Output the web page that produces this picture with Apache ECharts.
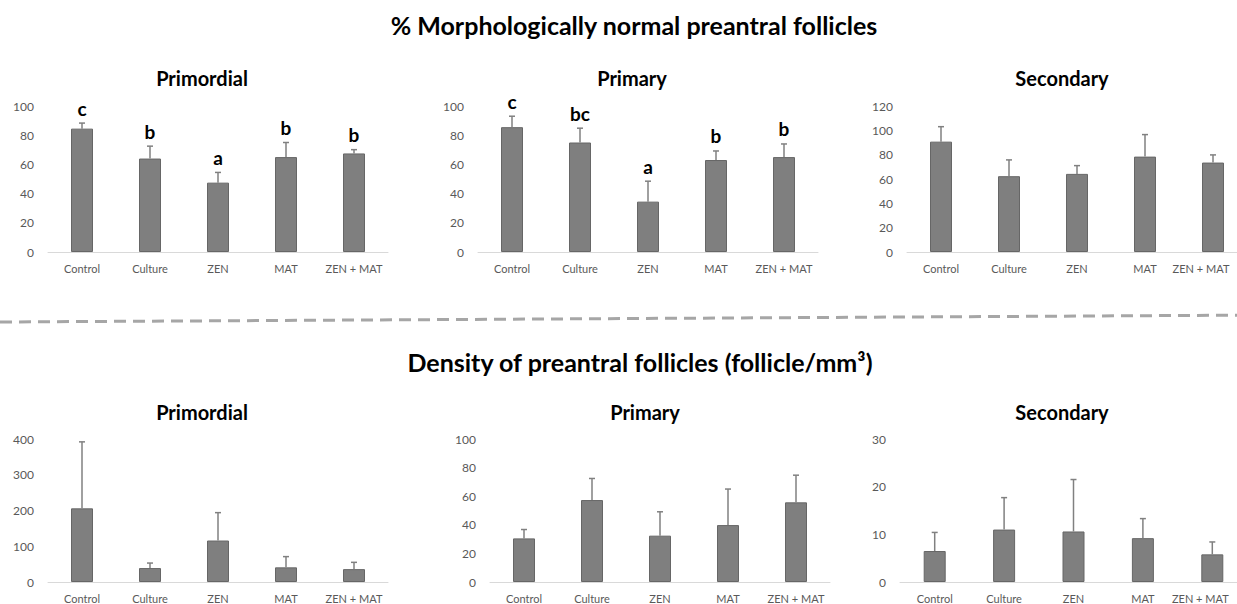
<!DOCTYPE html>
<html><head><meta charset="utf-8">
<script src="https://cdn.jsdelivr.net/npm/echarts@6/dist/echarts.min.js"></script>
<style>html,body{margin:0;padding:0;background:#fff;overflow:hidden}#c{width:1270px;height:604px}</style>
</head><body><div id="c"></div>
<script>
const categories = ['Control', 'Culture', 'ZEN', 'MAT', 'ZEN + MAT'];
const mainTitles = ['% Morphologically normal preantral follicles', 'Density of preantral follicles (follicle/mm³)'];
const panelTitles = ['Primordial', 'Primary', 'Secondary', 'Primordial', 'Primary', 'Secondary'];

const morphPrimordialMean = [84.5, 64, 47.5, 65, 67.5];
const morphPrimordialSD   = [3.8, 8.5, 7, 10, 2.6];
const morphPrimordialLetters = ['c', 'b', 'a', 'b', 'b'];
const morphPrimaryMean = [85.5, 75, 34.5, 63, 65];
const morphPrimarySD   = [7.5, 9.8, 14, 6.2, 9];
const morphPrimaryLetters = ['c', 'bc', 'a', 'b', 'b'];
const morphSecondaryMean = [90.7, 62.3, 64.2, 78.4, 73.5];
const morphSecondarySD   = [12.3, 13.4, 6.8, 18.1, 6.3];

const densPrimordialMean = [206, 39, 116, 41, 36];
const densPrimordialSD   = [186, 14, 78, 30, 19];
const densPrimaryMean = [30.5, 57.3, 32.4, 39.8, 55.7];
const densPrimarySD   = [6.2, 15.1, 16.7, 25.2, 19];
const densSecondaryMean = [6.5, 11, 10.6, 9.2, 5.8];
const densSecondarySD   = [3.9, 6.7, 10.9, 4.1, 2.6];

const yMax  = [100, 100, 120, 400, 100, 30];
const yStep = [20, 20, 20, 100, 20, 10];

const panels = [
  {mean: morphPrimordialMean, sd: morphPrimordialSD, letters: morphPrimordialLetters},
  {mean: morphPrimaryMean, sd: morphPrimarySD, letters: morphPrimaryLetters},
  {mean: morphSecondaryMean, sd: morphSecondarySD, letters: null},
  {mean: densPrimordialMean, sd: densPrimordialSD, letters: null},
  {mean: densPrimaryMean, sd: densPrimarySD, letters: null},
  {mean: densSecondaryMean, sd: densSecondarySD, letters: null}
];

const FONT = 'Lato, "Open Sans", sans-serif';
const grids = [
  {left: 48,  top: 106, width: 340, height: 146},
  {left: 478, top: 106, width: 340, height: 146},
  {left: 907, top: 106, width: 340, height: 146},
  {left: 48,  top: 439, width: 340, height: 147},
  {left: 490, top: 439, width: 340, height: 147},
  {left: 900, top: 439, width: 347, height: 147}
];
const rightEdgePanel = [false, false, true, false, false, true];
const titlePos = [[202, 78], [632, 78], [1062, 78], [202, 412], [645, 412], [1062, 412]];

const chart = echarts.init(document.getElementById('c'), null, {renderer: 'svg'});

const xAxes = [], yAxes = [], series = [];
panels.forEach((p, i) => {
  const lastIdx = categories.length - 1;
  xAxes.push({
    type: 'category', gridIndex: i, data: categories,
    axisLine: {lineStyle: {color: '#d9d9d9', width: 1}},
    axisTick: {show: false},
    axisLabel: {
      color: '#595959', fontSize: 11, margin: 11, fontFamily: FONT, interval: 0,
      formatter: rightEdgePanel[i] ? function (v, idx) { return idx === lastIdx ? '{edge|' + v + '}' : v; } : null,
      rich: {edge: {color: '#595959', fontSize: 11, fontFamily: FONT, padding: [0, 24, 0, 0]}}
    }
  });
  yAxes.push({
    type: 'value', gridIndex: i, min: 0, max: yMax[i], interval: yStep[i],
    axisLine: {show: false}, axisTick: {show: false}, splitLine: {show: false},
    axisLabel: {color: '#595959', fontSize: 12, margin: 14, fontFamily: FONT}
  });
  series.push({
    type: 'bar', xAxisIndex: i, yAxisIndex: i, data: p.mean, barWidth: 22,
    itemStyle: {color: '#7f7f7f', borderColor: '#666666', borderWidth: 1},
    silent: true, animation: false
  });
  const letters = p.letters;
  series.push({
    type: 'custom', xAxisIndex: i, yAxisIndex: i, z: 5, animation: false, silent: true,
    data: p.mean.map((m, k) => [k, m, p.sd[k]]),
    encode: {x: 0, y: 1},
    renderItem: function (params, api) {
      const k = api.value(0), m = api.value(1), s = api.value(2);
      const p0 = api.coord([k, m]);
      const p1 = api.coord([k, m + s]);
      const st = {stroke: '#808080', lineWidth: 1.5};
      const children = [
        {type: 'line', shape: {x1: p0[0], y1: p0[1], x2: p1[0], y2: p1[1]}, style: st},
        {type: 'line', shape: {x1: p1[0] - 3, y1: p1[1], x2: p1[0] + 3, y2: p1[1]}, style: st}
      ];
      if (letters) {
        children.push({type: 'text', x: p1[0], y: p1[1] - 15,
          style: {text: letters[params.dataIndex], fontSize: 19, fontWeight: 'bold', fill: '#000',
                  align: 'center', verticalAlign: 'middle', fontFamily: FONT}});
      }
      return {type: 'group', children: children};
    }
  });
});

const graphics = [
  {type: 'line', shape: {x1: 0, y1: 322, x2: 1270, y2: 315},
   style: {stroke: '#a6a6a6', lineWidth: 3, lineDash: [12, 7]}},
  {type: 'text', x: 634, y: 25, style: {text: mainTitles[0], fontSize: 25, fontWeight: 'bold', fill: '#000',
    align: 'center', verticalAlign: 'middle', fontFamily: FONT}},
  {type: 'text', x: 640, y: 362, style: {text: mainTitles[1], fontSize: 25, fontWeight: 'bold', fill: '#000',
    align: 'center', verticalAlign: 'middle', fontFamily: FONT}}
];
panelTitles.forEach((t, i) => {
  graphics.push({type: 'text', x: titlePos[i][0], y: titlePos[i][1],
    style: {text: t, fontSize: 20, fontWeight: 'bold', fill: '#000', align: 'center', verticalAlign: 'middle', fontFamily: FONT}});
});

chart.setOption({
  animation: false,
  grid: grids,
  xAxis: xAxes,
  yAxis: yAxes,
  series: series,
  graphic: graphics
});
</script>
</body></html>
